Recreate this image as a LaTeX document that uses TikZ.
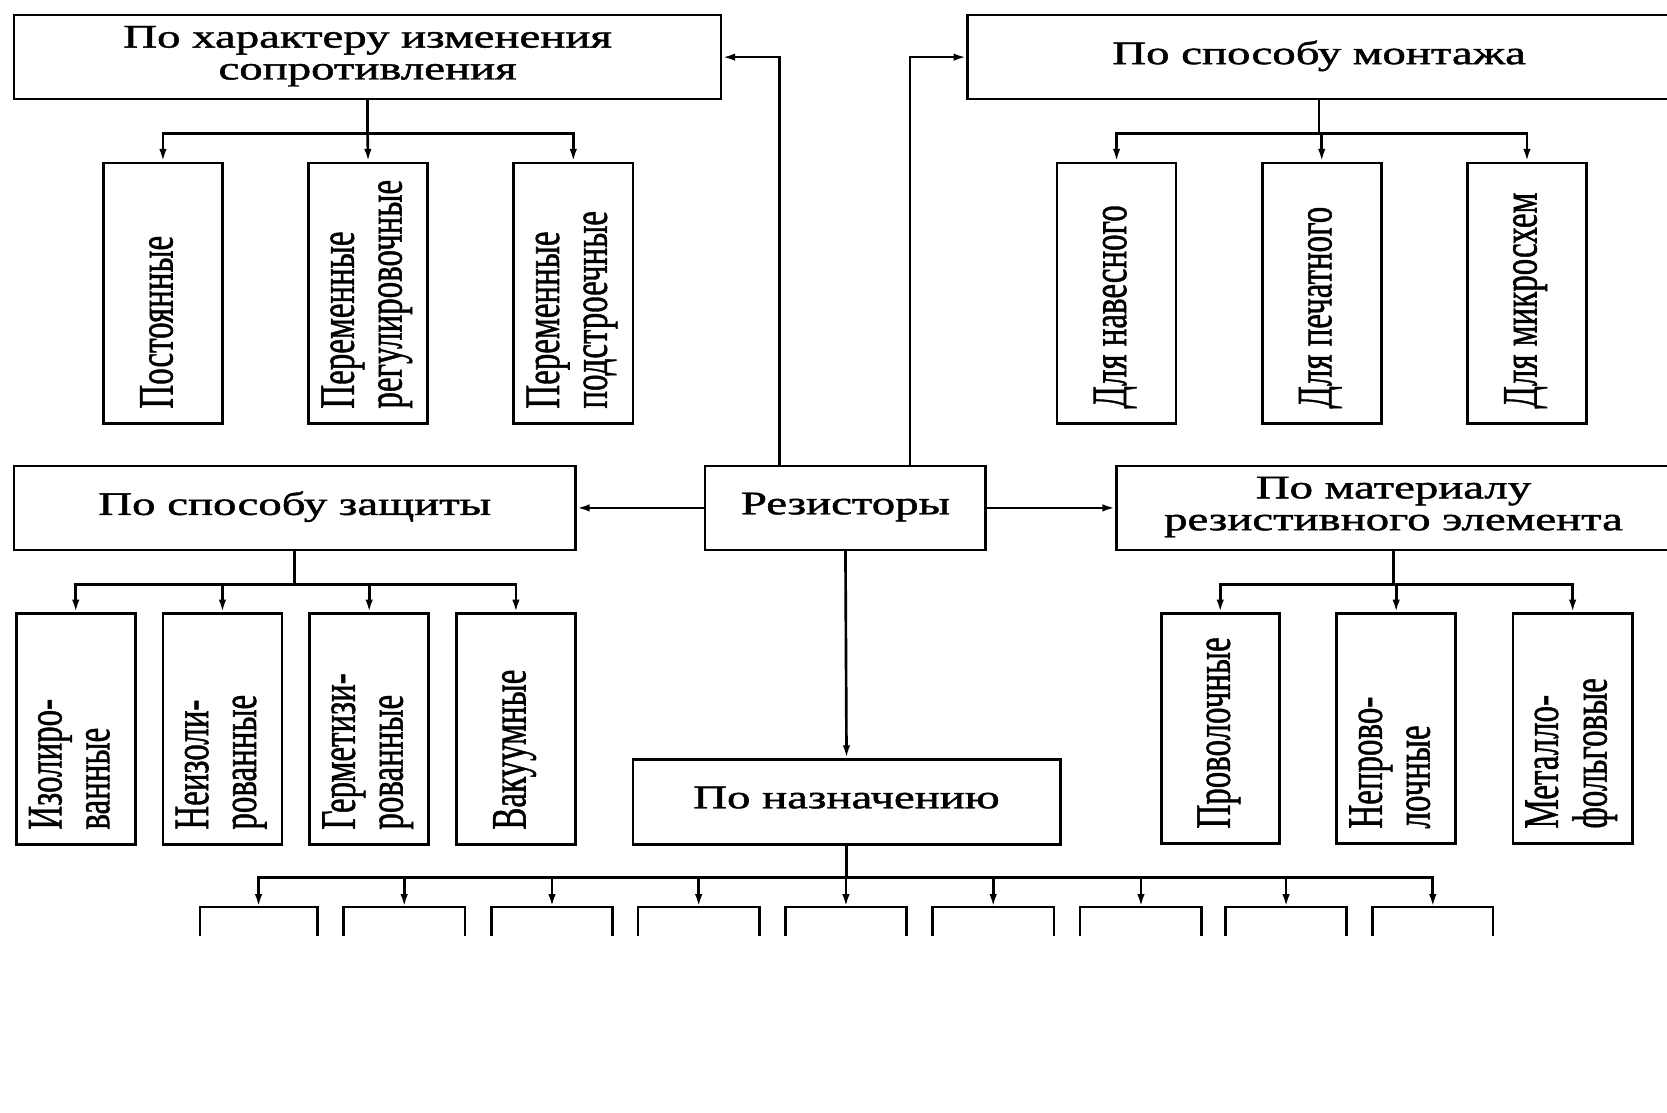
\documentclass[tikz,border=0pt]{standalone}
\usepackage{fontspec}
\setmainfont{Liberation Serif}[RawFeature={embolden=1.2}]
\usepackage{graphicx}
\usetikzlibrary{arrows.meta}
\newcommand\hs[1]{\scalebox{1.42}[1]{\begin{tabular}{@{}c@{}}#1\end{tabular}}}
\newcommand\vs[1]{\scalebox{1.5}[1]{\rotatebox{90}{\begin{tabular}{@{}l@{}}#1\end{tabular}}}}
\begin{document}
\begin{tikzpicture}[x=1pt,y=-1pt,
  ln/.style={line width=2.5pt},
  arr/.style={ln,-{Latex[length=12pt,width=7pt]}},
  fnt/.style={font=\fontsize{31}{30}\selectfont},
  bx/.style={draw,line width=2.5pt,inner sep=0pt,anchor=north west,fnt},
  ob/.style={inner sep=0pt,anchor=north west},
  sz/.style 2 args={minimum width=#1pt,minimum height=#2pt},
  vt/.style={inner sep=0pt,anchor=south,yshift=15pt,fnt}]
\useasboundingbox (0,0) rectangle (1568,1046);
\clip (0,0) rectangle (1568,1046);
% top-left group
\node[bx,sz={665}{79}] (A) at (12,13) {\hs{По характеру изменения\\сопротивления}};
\node[bx,sz={112}{245}] (A1) at (96,152) {};
\node[bx,sz={112}{245}] (A2) at (289,152) {};
\node[bx,sz={112}{245}] (A3) at (482,152) {};
\node[vt] (A1t) at (A1.south) {\vs{Постоянные}};
\node[vt] (A2t) at (A2.south) {\vs{Переменные\\регулировочные}};
\node[vt] (A3t) at (A3.south) {\vs{Переменные\\подстроечные}};
% top-right group
\node[bx,sz={661}{79}] (B) at (909,13) {\hs{По способу монтажа}};
\node[bx,sz={112}{245}] (B1) at (993,152) {};
\node[bx,sz={112}{245}] (B2) at (1186,152) {};
\node[bx,sz={112}{245}] (B3) at (1379,152) {};
\node[vt] (B1t) at (B1.south) {\vs{Для навесного}};
\node[vt] (B2t) at (B2.south) {\vs{Для печатного}};
\node[vt] (B3t) at (B3.south) {\vs{Для микросхем}};
% centre
\node[bx,sz={264}{79}] (R) at (662,437) {\hs{Резисторы}};
% left middle group
\node[bx,sz={528}{79}] (C) at (12,437) {\hs{По способу защиты}};
\node[bx,sz={112}{217}] (C1) at (14,576) {};
\node[bx,sz={112}{217}] (C2) at (152,576) {};
\node[bx,sz={112}{217}] (C3) at (290,576) {};
\node[bx,sz={112}{217}] (C4) at (428,576) {};
\node[vt] (C1t) at (C1.south) {\vs{Изолиро-\\ванные}};
\node[vt] (C2t) at (C2.south) {\vs{Неизоли-\\рованные}};
\node[vt] (C3t) at (C3.south) {\vs{Герметизи-\\рованные}};
\node[vt] (C4t) at (C4.south) {\vs{Вакуумные}};
% right middle group
\node[bx,sz={521}{79}] (D) at (1049,437) {\hs{По материалу\\резистивного элемента}};
\node[bx,sz={111}{216}] (D1) at (1091,576) {};
\node[bx,sz={112}{216}] (D2) at (1256,576) {};
\node[bx,sz={112}{216}] (D3) at (1422,576) {};
\node[vt] (D1t) at (D1.south) {\vs{Проволочные}};
\node[vt] (D2t) at (D2.south) {\vs{Непрово-\\лочные}};
\node[vt] (D3t) at (D3.south) {\vs{Металло-\\фольговые}};
% bottom group
\node[bx,sz={402}{80}] (E) at (594,713) {\hs{По назначению}};
\foreach \i/\xa/\xb in {1/188/298,2/323/437,3/462/576,4/600/714,5/739/852,6/877/991,7/1016/1130,8/1153/1266,9/1291/1404}{
  \pgfmathsetmacro\w{\xb-\xa}
  \node[ob,minimum width=\w pt,minimum height=27pt] (E\i) at (\xa,853) {};
  \draw[ln] (E\i.south west) -- (E\i.north west) -- (E\i.north east) -- (E\i.south east);
}
% connectors from Резисторы
\draw[arr] ([xshift=71pt]R.north west) |- (A.east);
\draw[arr] ([xshift=194pt]R.north west) |- (B.west);
\draw[arr] (R.west) -- (C.east);
\draw[arr] (R.east) -- (D.west);
\draw[arr] (R.south) -- (E.north);
% trees
\draw[ln] (A.south) -- ++(0,31) coordinate (aj);
\draw[arr] (aj) -| (A1.north);
\draw[arr] (aj) -- (A2.north);
\draw[arr] (aj) -| (A3.north);
\draw[ln] (B.south) -- ++(0,31) coordinate (bj);
\draw[arr] (bj) -| (B1.north);
\draw[arr] (bj) -| (B2.north);
\draw[arr] (bj) -| (B3.north);
\draw[ln] (C.south) -- ++(0,31) coordinate (cj);
\draw[arr] (cj) -| (C1.north);
\draw[arr] (cj) -| (C2.north);
\draw[arr] (cj) -| (C3.north);
\draw[arr] (cj) -| (C4.north);
\draw[ln] (D.south) -- ++(0,31) coordinate (dj);
\draw[arr] (dj) -| (D1.north);
\draw[arr] (dj) -| (D2.north);
\draw[arr] (dj) -| (D3.north);
\draw[ln] (E.south) -- ++(0,30) coordinate (ej);
\foreach \i in {1,...,9}{\draw[arr] (ej) -| (E\i.north);}
\end{tikzpicture}
\end{document}
